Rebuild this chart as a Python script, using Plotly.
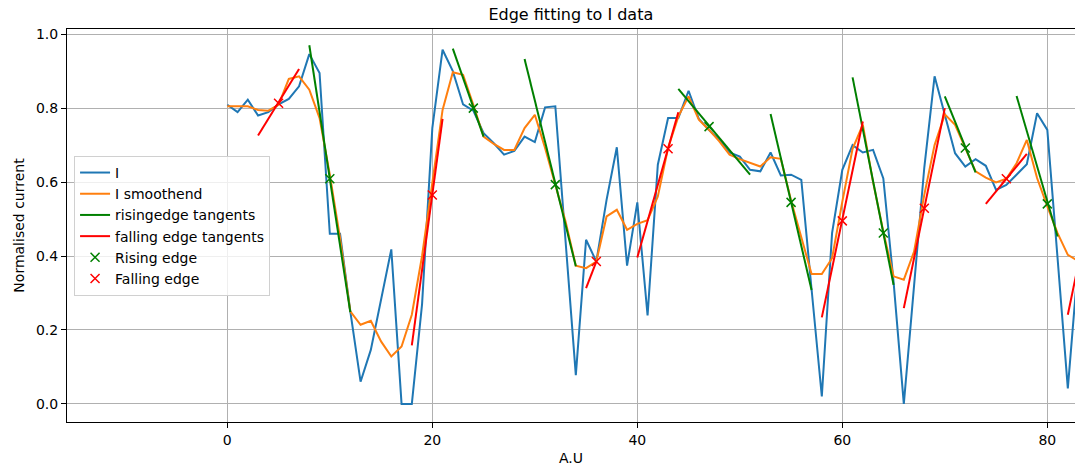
import plotly.graph_objects as go

# ---- data ----
x_index = list(range(84))

I_raw = [0.809, 0.789, 0.823, 0.780, 0.789, 0.810, 0.825, 0.859, 0.946, 0.895,
         0.460, 0.460, 0.250, 0.060, 0.146, 0.286, 0.418, 0.000, 0.000, 0.270,
         0.746, 0.958, 0.900, 0.810, 0.793, 0.732, 0.705, 0.674, 0.684, 0.723,
         0.708, 0.802, 0.805, 0.440, 0.078, 0.444, 0.385, 0.552, 0.694, 0.374,
         0.545, 0.239, 0.647, 0.773, 0.773, 0.847, 0.771, 0.741, 0.714, 0.680,
         0.669, 0.633, 0.629, 0.680, 0.618, 0.620, 0.606, 0.310, 0.020, 0.462,
         0.633, 0.700, 0.680, 0.687, 0.610, 0.330, 0.000, 0.320, 0.640, 0.886,
         0.780, 0.678, 0.642, 0.662, 0.644, 0.579, 0.592, 0.620, 0.648, 0.786,
         0.741, 0.394, 0.042, 0.380]

I_smooth = [0.805, 0.805, 0.805, 0.795, 0.793, 0.809, 0.879, 0.886, 0.850, 0.773,
            0.620, 0.448, 0.250, 0.214, 0.225, 0.169, 0.128, 0.155, 0.241, 0.400,
            0.600, 0.795, 0.897, 0.890, 0.809, 0.723, 0.703, 0.687, 0.687, 0.746,
            0.782, 0.692, 0.593, 0.493, 0.374, 0.367, 0.385, 0.507, 0.525, 0.471,
            0.487, 0.497, 0.561, 0.692, 0.777, 0.832, 0.769, 0.741, 0.710, 0.674,
            0.662, 0.651, 0.642, 0.667, 0.663, 0.550, 0.448, 0.351, 0.351, 0.394,
            0.547, 0.690, 0.755, 0.600, 0.466, 0.345, 0.336, 0.412, 0.566, 0.700,
            0.783, 0.755, 0.692, 0.629, 0.612, 0.599, 0.609, 0.651, 0.714, 0.611,
            0.534, 0.462, 0.403, 0.387]

# rising edge tangents (start / end points)
rise_x0 = [8, 22, 29, 44, 53, 61, 70, 77]
rise_y0 = [0.970, 0.961, 0.933, 0.852, 0.784, 0.883, 0.832, 0.833]
rise_x1 = [12, 25, 34, 51, 57, 65, 73, 81]
rise_y1 = [0.248, 0.723, 0.372, 0.620, 0.308, 0.322, 0.626, 0.453]

# falling edge tangents (start / end points)
fall_x0 = [3, 18, 35, 40, 58, 66, 74, 82]
fall_y0 = [0.726, 0.158, 0.313, 0.396, 0.234, 0.259, 0.541, 0.241]
fall_x1 = [7, 21, 36, 44, 62, 70, 78, 84]
fall_y1 = [0.906, 0.771, 0.385, 0.789, 0.764, 0.800, 0.676, 0.509]

# edge points
rise_pt_x = [10, 24, 32, 47, 55, 64, 72, 80]
rise_pt_y = [0.609, 0.800, 0.593, 0.750, 0.545, 0.462, 0.692, 0.541]
fall_pt_x = [5, 20, 36, 43, 60, 68, 76]
fall_pt_y = [0.813, 0.565, 0.385, 0.690, 0.495, 0.529, 0.609]


def segments(x0, y0, x1, y1):
    xs, ys = [], []
    for a, b, c, d in zip(x0, y0, x1, y1):
        xs += [a, c, None]
        ys += [b, d, None]
    return xs, ys


rx, ry = segments(rise_x0, rise_y0, rise_x1, rise_y1)
fx, fy = segments(fall_x0, fall_y0, fall_x1, fall_y1)

FONT = "DejaVu Sans"

fig = go.Figure()
fig.add_trace(go.Scatter(x=x_index, y=I_raw, mode="lines", name="I",
                         line=dict(color="#1f77b4", width=2)))
fig.add_trace(go.Scatter(x=x_index, y=I_smooth, mode="lines", name="I smoothend",
                         line=dict(color="#ff7f0e", width=2)))
fig.add_trace(go.Scatter(x=rx, y=ry, mode="lines", name="risingedge tangents",
                         line=dict(color="#008000", width=2)))
fig.add_trace(go.Scatter(x=fx, y=fy, mode="lines", name="falling edge tangents",
                         line=dict(color="#ff0000", width=2)))
fig.add_trace(go.Scatter(x=rise_pt_x, y=rise_pt_y, mode="markers", name="Rising edge",
                         marker=dict(symbol="x-thin", size=9,
                                     line=dict(width=1.5, color="#008000"))))
fig.add_trace(go.Scatter(x=fall_pt_x, y=fall_pt_y, mode="markers", name="Falling edge",
                         marker=dict(symbol="x-thin", size=9,
                                     line=dict(width=1.5, color="#ff0000"))))

fig.update_layout(
    width=1075, height=470,
    margin=dict(l=67, r=0, t=29, b=48),
    paper_bgcolor="white", plot_bgcolor="white",
    font=dict(family=FONT, size=14, color="black"),
    title=dict(text="Edge fitting to I data", x=0.531, xanchor="center",
               y=1 - 14 / 470, yanchor="middle", yref="container",
               font=dict(size=16, color="black")),
    legend=dict(x=0.007, y=0.677, xanchor="left", yanchor="top",
                bgcolor="rgba(255,255,255,0.8)", bordercolor="#d0d0d0",
                borderwidth=1, font=dict(size=14)),
    showlegend=True,
)
fig.update_xaxes(range=[-15.64, 82.7], tickvals=[0, 20, 40, 60, 80],
                 ticks="outside", ticklen=5, tickcolor="black",
                 showline=True, linecolor="black", linewidth=1, mirror=True,
                 showgrid=True, gridcolor="#b0b0b0", gridwidth=1, zeroline=False,
                 title=dict(text="A.U", standoff=6, font=dict(size=14)))
fig.update_yaxes(range=[-0.049, 1.014], tickvals=[0, 0.2, 0.4, 0.6, 0.8, 1.0],
                 tickformat=".1f",
                 ticks="outside", ticklen=5, tickcolor="black",
                 showline=True, linecolor="black", linewidth=1,
                 showgrid=True, gridcolor="#b0b0b0", gridwidth=1, zeroline=False,
                 title=dict(text="Normalised current", standoff=8, font=dict(size=14)))

fig.write_html("out.html")
